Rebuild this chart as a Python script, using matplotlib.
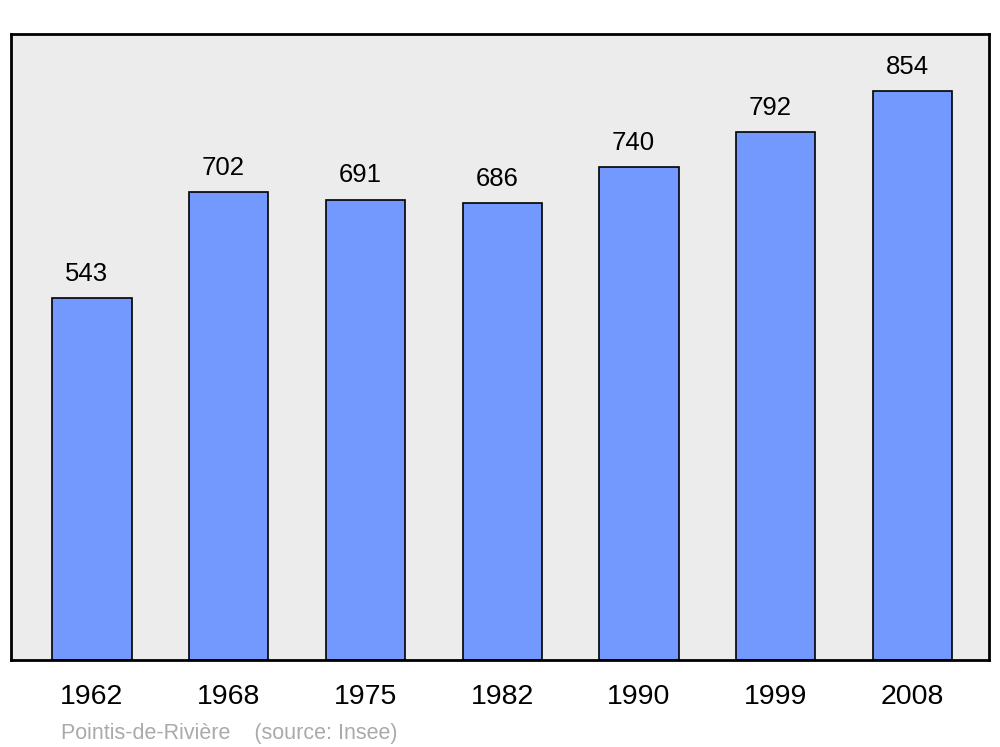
import matplotlib.pyplot as plt

plt.rcParams['font.family'] = ['Liberation Sans', 'DejaVu Sans']

years = ["1962", "1968", "1975", "1982", "1990", "1999", "2008"]
population = [543, 702, 691, 686, 740, 792, 854]

fig = plt.figure(figsize=(10, 7.47), dpi=100)
ax = fig.add_axes([0.011, 1 - 660 / 747, 0.978, 626 / 747])
ax.set_facecolor("#ececec")

x = list(range(len(years)))
ax.bar(x, population, width=0.58, color="#7399ff", edgecolor="black", linewidth=1.2, zorder=2)

for xi, v in zip(x, population):
    ax.annotate(str(v), (xi, v), xytext=(-4, 12.5), textcoords="offset points",
                ha="center", va="baseline", fontsize=18.5)

ax.set_xlim(-0.592, 6.559)
ax.set_ylim(0, max(population) * 1.1)
ax.set_xticks(x)
ax.set_xticklabels(years, fontsize=20.5)
ax.tick_params(axis="x", length=0, pad=17.5)
ax.set_yticks([])
for s in ax.spines.values():
    s.set_linewidth(2)

fig.text(0.061, 1 - 733 / 747, "Pointis-de-Rivière    (source: Insee)",
         fontsize=15.5, color="#aaaaaa", ha="left", va="center")

fig.savefig("out.png", dpi=100)
